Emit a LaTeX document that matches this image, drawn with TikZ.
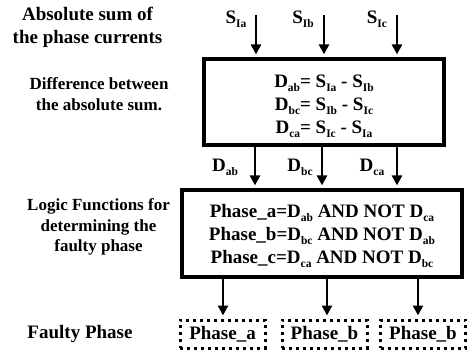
\documentclass[tikz,border=0pt]{standalone}
\usepackage{fontspec}
\setmainfont{Liberation Serif}
\usetikzlibrary{arrows.meta}
\newcommand{\sbx}[1]{\raisebox{-0.22em}{\fontsize{11.5}{12}\selectfont #1}}
\begin{document}
\begin{tikzpicture}[x=1pt,y=-1pt,
  every node/.style={font=\bfseries\fontsize{19}{23}\selectfont, inner sep=0pt},
  side/.style={align=center, font=\bfseries\fontsize{17}{20.5}\selectfont},
  blk/.style={draw, line width=3.2pt, minimum width=#1},
  dotbox/.style={draw, line width=3pt, dash pattern=on 3pt off 4pt, minimum width=85pt, minimum height=28pt},
  arr/.style={line width=2.6pt, -{Triangle[length=10pt,width=10pt]}, shorten >=3pt}]
\useasboundingbox (0,0) rectangle (468,358);
% left labels
\node[align=center] (l1) at (87.5,27) {Absolute sum of\\the phase currents};
\node[side] (l2) at (99,94) {Difference between\\the absolute sum.};
\node[side] (l3) at (98.5,227) {Logic Functions for\\determining the\\faulty phase};
\node (l4) at (80,334) {Faulty Phase};
% boxes
\node[blk=240pt, minimum height=86pt] (b1) at (324,102) {};
\node[align=center] (t1) at (324,106) {D\sbx{ab}= S\sbx{Ia} - S\sbx{Ib}\\D\sbx{bc}= S\sbx{Ib} - S\sbx{Ic}\\D\sbx{ca}= S\sbx{Ic} - S\sbx{Ia}};
\node[blk=280pt, minimum height=87pt] (b2) at (322,233.5) {};
\node[align=center] (t2) at (322,236) {Phase\_a=D\sbx{ab} AND NOT D\sbx{ca}\\Phase\_b=D\sbx{bc} AND NOT D\sbx{ab}\\Phase\_c=D\sbx{ca} AND NOT D\sbx{bc}};
% inputs
\coordinate (ia) at (256,15);
\coordinate (ib) at (324,15);
\coordinate (ic) at (397,15);
\node (sa) at (236,19) {S\sbx{Ia}};
\node (sb) at (303,19) {S\sbx{Ib}};
\node (sc) at (377,19) {S\sbx{Ic}};
\draw[arr] (ia) -- (ia |- b1.north);
\draw[arr] (ib) -- (ib |- b1.north);
\draw[arr] (ic) -- (ic |- b1.north);
% middle arrows
\coordinate (ma) at (255,0);
\coordinate (mb) at (322,0);
\coordinate (mc) at (397,0);
\draw[arr] (ma |- b1.south) -- (ma |- b2.north);
\draw[arr] (mb |- b1.south) -- (mb |- b2.north);
\draw[arr] (mc |- b1.south) -- (mc |- b2.north);
\node (da) at (225,167) {D\sbx{ab}};
\node (db) at (300,167) {D\sbx{bc}};
\node (dc) at (372,167) {D\sbx{ca}};
% outputs
\node[dotbox] (pa) at (222.5,334) {Phase\_a};
\node[dotbox] (pb) at (324.5,334) {Phase\_b};
\node[dotbox] (pc) at (423,334) {Phase\_b};
\coordinate (oa) at (223,0);
\coordinate (ob) at (327,0);
\coordinate (oc) at (418,0);
\draw[arr] (oa |- b2.south) -- (oa |- pa.north);
\draw[arr] (ob |- b2.south) -- (ob |- pb.north);
\draw[arr] (oc |- b2.south) -- (oc |- pc.north);
\end{tikzpicture}
\end{document}
